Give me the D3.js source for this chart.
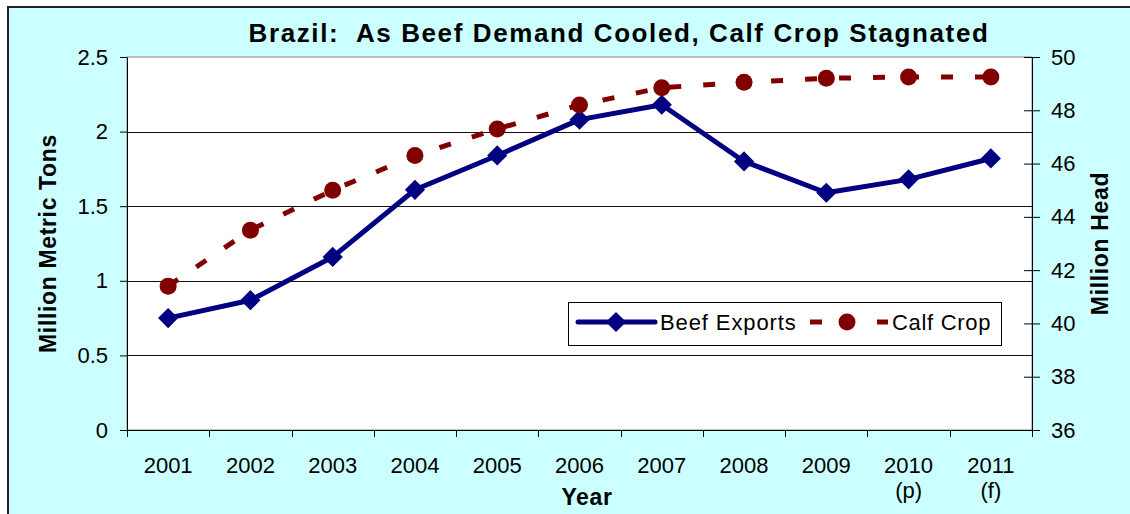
<!DOCTYPE html>
<html>
<head>
<meta charset="utf-8">
<script src="https://cdn.jsdelivr.net/npm/d3@7"></script>
<style>
  html, body { margin: 0; padding: 0; background: #fff; }
  svg { display: block; }
  text { font-family: Arial, "Liberation Sans", sans-serif; fill: #000; }
</style>
</head>
<body>
<svg id="chart" width="1130" height="514"></svg>
<script>
// ---- data ----
const years = ["2001", "2002", "2003", "2004", "2005", "2006", "2007", "2008", "2009", "2010", "2011"];
const yearNotes = ["", "", "", "", "", "", "", "", "", "(p)", "(f)"];
const beefExports = [0.75, 0.87, 1.16, 1.61, 1.84, 2.08, 2.18, 1.80, 1.59, 1.68, 1.82];
const calfCrop = [41.4, 43.5, 45.0, 46.3, 47.3, 48.2, 48.85, 49.05, 49.2, 49.25, 49.25];
const leftTicks = [0, 0.5, 1, 1.5, 2, 2.5];
const rightTicks = [36, 38, 40, 42, 44, 46, 48, 50];
const titleText = "Brazil:  As Beef Demand Cooled, Calf Crop Stagnated";
const seriesNames = ["Beef Exports", "Calf Crop"];

// ---- layout ----
const plot = { left: 127, top: 57, right: 1032, bottom: 430 };
const navy = "#000080", maroon = "#800000";

const svg = d3.select("#chart");

// background frame
svg.append("rect").attr("x", 8).attr("y", 7).attr("width", 1130).attr("height", 520)
  .attr("fill", "#CCFFFF").attr("stroke", "#222").attr("stroke-width", 2);

// plot area
svg.append("rect").attr("x", plot.left).attr("y", plot.top)
  .attr("width", plot.right - plot.left).attr("height", plot.bottom - plot.top)
  .attr("fill", "#fff").attr("stroke", "#888").attr("stroke-width", 1);

const x = d3.scaleBand().domain(years).range([plot.left, plot.right]).padding(0);
const yL = d3.scaleLinear().domain([0, 2.5]).range([plot.bottom, plot.top]);
const yR = d3.scaleLinear().domain([36, 50]).range([plot.bottom, plot.top]);

// gridlines
svg.append("g").selectAll("line").data(leftTicks.filter(d => d > 0 && d < 2.5)).join("line")
  .attr("x1", plot.left).attr("x2", plot.right)
  .attr("y1", d => Math.round(yL(d)) + 0.5).attr("y2", d => Math.round(yL(d)) + 0.5)
  .attr("stroke", "#111").attr("stroke-width", 1);

// left axis
const gL = svg.append("g").attr("transform", `translate(${plot.left},0)`)
  .call(d3.axisLeft(yL).tickValues(leftTicks).tickFormat(d3.format("")).tickSizeInner(7).tickSizeOuter(0).tickPadding(12));
gL.selectAll("path, line").attr("stroke", "#000");
gL.selectAll("text").style("font-size", "22px").attr("fill", "#000");

// right axis
const gR = svg.append("g").attr("transform", `translate(${plot.right},0)`)
  .call(d3.axisRight(yR).tickValues(rightTicks).tickSizeInner(8).tickSizeOuter(0).tickPadding(11));
gR.selectAll("path, line").attr("stroke", "#000");
gR.selectAll(".tick line").attr("x1", -8);
gR.selectAll("text").style("font-size", "22px").attr("fill", "#000");

// bottom axis (labels at band centres)
const gB = svg.append("g").attr("transform", `translate(0,${plot.bottom})`)
  .call(d3.axisBottom(x).tickSize(0).tickPadding(27).tickSizeOuter(0));
gB.select(".domain").attr("stroke", "#000");
gB.selectAll("text").style("font-size", "22px").attr("fill", "#000");
gB.selectAll(".tick text").each(function(d) {
  const note = yearNotes[years.indexOf(d)];
  if (note) {
    d3.select(this).append("tspan").attr("x", 0).attr("dy", "1.15em").text(note);
  }
});
// category boundary ticks
const bounds = years.map(d => x(d)).concat([plot.right]);
svg.append("g").selectAll("line").data(bounds).join("line")
  .attr("x1", d => Math.round(d) + 0.5).attr("x2", d => Math.round(d) + 0.5)
  .attr("y1", plot.bottom).attr("y2", plot.bottom + 7)
  .attr("stroke", "#000");

// axis titles
svg.append("text").attr("transform", `translate(56,${(plot.top + plot.bottom) / 2}) rotate(-90)`)
  .attr("text-anchor", "middle").style("font-size", "23px").style("font-weight", "bold")
  .style("letter-spacing", "0.65px")
  .text("Million Metric Tons");
svg.append("text").attr("transform", `translate(1108,${(plot.top + plot.bottom) / 2}) rotate(-90)`)
  .attr("text-anchor", "middle").style("font-size", "23px").style("font-weight", "bold")
  .style("letter-spacing", "0.65px")
  .text("Million Head");
svg.append("text").attr("x", 587).attr("y", 505)
  .attr("text-anchor", "middle").style("font-size", "23px").style("font-weight", "bold")
  .style("letter-spacing", "0.65px")
  .text("Year");

// title
svg.append("text").attr("x", 619).attr("y", 42)
  .attr("text-anchor", "middle").style("font-size", "26px").style("font-weight", "bold")
  .style("letter-spacing", "1.6px").style("white-space", "pre").attr("xml:space", "preserve")
  .text(titleText);

const cx = d => x(d) + x.bandwidth() / 2;
const diamond = d3.symbol().type(d3.symbolDiamond2).size(260);

// beef exports
svg.append("path").datum(beefExports)
  .attr("d", d3.line().x((d, i) => cx(years[i])).y(d => yL(d)))
  .attr("fill", "none").attr("stroke", navy).attr("stroke-width", 5).attr("stroke-linejoin", "round");
svg.append("g").selectAll("path").data(beefExports).join("path")
  .attr("transform", (d, i) => `translate(${cx(years[i])},${yL(d)})`)
  .attr("d", diamond).attr("fill", navy);

// calf crop
svg.append("path").datum(calfCrop)
  .attr("d", d3.line().x((d, i) => cx(years[i])).y(d => yR(d)))
  .attr("fill", "none").attr("stroke", maroon).attr("stroke-width", 5)
  .attr("stroke-dasharray", "12,22");
svg.append("g").selectAll("circle").data(calfCrop).join("circle")
  .attr("cx", (d, i) => cx(years[i])).attr("cy", d => yR(d)).attr("r", 8.5)
  .attr("fill", maroon);

// legend
const lg = svg.append("g");
lg.append("rect").attr("x", 568.5).attr("y", 302.5).attr("width", 433).attr("height", 43)
  .attr("fill", "#fff").attr("stroke", "#000").attr("stroke-width", 1);
const ly = 322;
lg.append("line").attr("x1", 578).attr("x2", 655).attr("y1", ly).attr("y2", ly)
  .attr("stroke", navy).attr("stroke-width", 5).attr("stroke-linecap", "round");
lg.append("path").attr("transform", `translate(616,${ly})`).attr("d", diamond).attr("fill", navy);
lg.append("text").attr("x", 660).attr("y", ly + 8).style("font-size", "22px")
  .style("letter-spacing", "0.9px").text(seriesNames[0]);
lg.append("line").attr("x1", 810).attr("x2", 822).attr("y1", ly).attr("y2", ly)
  .attr("stroke", maroon).attr("stroke-width", 5);
lg.append("line").attr("x1", 877).attr("x2", 888).attr("y1", ly).attr("y2", ly)
  .attr("stroke", maroon).attr("stroke-width", 5);
lg.append("circle").attr("cx", 847).attr("cy", ly).attr("r", 8.5).attr("fill", maroon);
lg.append("text").attr("x", 892).attr("y", ly + 8).style("font-size", "22px")
  .style("letter-spacing", "0.7px").text(seriesNames[1]);
</script>
</body>
</html>
